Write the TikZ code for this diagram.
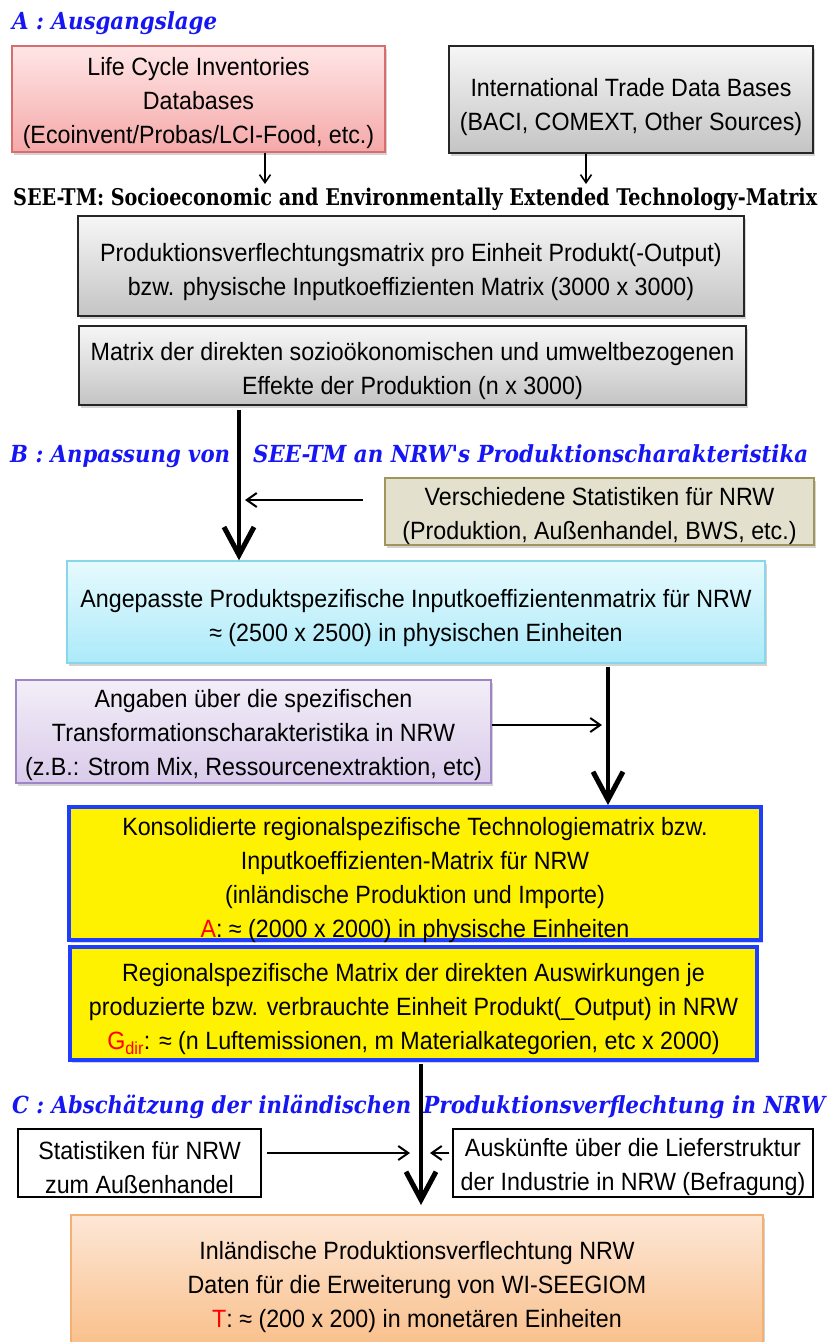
\documentclass[tikz,border=0pt]{standalone}
\usepackage{fontspec}
\usepackage{graphicx}
\setmainfont{Liberation Sans}[FakeStretch=0.93]
\newfontfamily\headserif{DejaVu Serif}
\usetikzlibrary{arrows.meta,shadows,calc}

\definecolor{headblue}{RGB}{22,22,245}
\definecolor{pinktop}{RGB}{255,230,230}
\definecolor{pinkbot}{RGB}{245,168,168}
\definecolor{pinkline}{RGB}{214,110,110}
\definecolor{graytop}{RGB}{246,246,246}
\definecolor{graybot}{RGB}{196,196,196}
\definecolor{olivefill}{RGB}{227,224,205}
\definecolor{oliveline}{RGB}{160,150,92}
\definecolor{cyantop}{RGB}{230,250,254}
\definecolor{cyanbot}{RGB}{172,234,249}
\definecolor{cyanline}{RGB}{136,214,234}
\definecolor{lilactop}{RGB}{243,238,248}
\definecolor{lilacbot}{RGB}{217,203,234}
\definecolor{lilacline}{RGB}{158,133,197}
\definecolor{frameblue}{RGB}{30,62,255}
\definecolor{orangetop}{RGB}{253,231,214}
\definecolor{orangebot}{RGB}{249,190,136}
\definecolor{orangeline}{RGB}{244,176,112}

% stretch a heading horizontally to a given width
\newcommand\fitto[2]{\resizebox{#1}{\height}{#2}}
% text of a box: node <box>T, set a little below the box centre
\newcommand\boxtext[3]{\node[boxtxt] (#1T) at ($(#1.center)+(0,#2)$) {#3};}

\begin{document}
\begin{tikzpicture}[x=1pt,y=-1pt,
  boxtxt/.style={align=center, inner sep=0pt, font=\fontsize{25}{34}\selectfont},
  box/.style={inner sep=0pt,
    drop shadow={shadow xshift=2pt,shadow yshift=-2.5pt,opacity=0.35}},
  pinkbox/.style={box, shading=axis, top color=pinktop, bottom color=pinkbot, draw=pinkline, line width=1.2pt},
  graybox/.style={box, shading=axis, top color=graytop, bottom color=graybot, draw=black!85, line width=1.5pt},
  olivebox/.style={box, fill=olivefill, draw=oliveline, line width=1.6pt},
  cyanbox/.style={box, shading=axis, top color=cyantop, bottom color=cyanbot, draw=cyanline, line width=1.4pt},
  lilacbox/.style={box, shading=axis, top color=lilactop, bottom color=lilacbot, draw=lilacline, line width=1.4pt},
  yellowbox/.style={box, fill=yellow, draw=frameblue, line width=4pt},
  whitebox/.style={inner sep=0pt, fill=white, draw=black, line width=1.5pt},
  orangebox/.style={box, shading=axis, top color=orangetop, bottom color=orangebot, draw=orangeline, line width=1.4pt},
  heading/.style={anchor=base west, inner sep=0pt, text=headblue,
    font=\headserif\bfseries\itshape\fontsize{23.5}{28}\selectfont},
  subheading/.style={anchor=base west, inner sep=0pt, text=black,
    font=\headserif\bfseries\fontsize{23}{28}\selectfont},
  bigarrow/.style={line width=4pt, -{Straight Barb[length=28pt,width=30pt,line width=5pt]}},
  smallarrow/.style={line width=2pt, -{Straight Barb[length=10pt,width=14pt,line width=2pt]}},
  tinyarrow/.style={line width=1.6pt, -{Straight Barb[length=8pt,width=11pt,line width=1.6pt]}}
]
\useasboundingbox (0,0) rectangle (828,1342);

% ---------- A : starting point ----------
\node[heading] (hA) at (12,29) {\fitto{205pt}{A : Ausgangslage}};

\node[pinkbox, minimum width=373pt, minimum height=106pt] (lci) at (198.5,99) {};
\boxtext{lci}{4.5}{Life Cycle Inventories\\Databases\\(Ecoinvent/Probas/LCI-Food, etc.)}
\node[graybox, minimum width=364pt, minimum height=107pt] (itd) at (631,99.5) {};
\boxtext{itd}{7.5}{International Trade Data Bases\\(BACI, COMEXT, Other Sources)}

\node[subheading] (see) at (13,205)
  {\fitto{804pt}{SEE-TM: Socioeconomic and Environmentally Extended Technology-Matrix}};

\coordinate (seeL) at (265,184);
\coordinate (seeR) at (586,184);
\draw[tinyarrow] (lci.south -| seeL) -- (seeL);
\draw[tinyarrow] (itd.south -| seeR) -- (seeR);

\node[graybox, minimum width=666pt, minimum height=100pt] (pvm) at (411,266) {};
\boxtext{pvm}{6}{Produktionsverflechtungsmatrix pro Einheit Produkt(-Output)\\bzw. physische Inputkoeffizienten Matrix (3000 x 3000)}
\node[graybox, minimum width=667pt, minimum height=79pt] (dir) at (412.5,365.5) {};
\boxtext{dir}{6}{Matrix der direkten sozioökonomischen und umweltbezogenen\\Effekte der Produktion (n x 3000)}

% ---------- B : adaptation ----------
\node[heading] (hB1) at (10,462) {\fitto{220pt}{B : Anpassung von}};
\node[heading] (hB2) at (253,462) {\fitto{555pt}{SEE-TM an NRW's Produktionscharakteristika}};

\node[olivebox, minimum width=429pt, minimum height=67pt] (vs) at (599.5,511.5) {};
\boxtext{vs}{5}{Verschiedene Statistiken für NRW\\(Produktion, Außenhandel, BWS, etc.)}

\node[cyanbox, minimum width=698pt, minimum height=102pt] (apm) at (416,612) {};
\boxtext{apm}{6}{Angepasste Produktspezifische Inputkoeffizientenmatrix für NRW\\≈ (2500 x 2500) in physischen Einheiten}

\coordinate (a1) at (239,0);
\coordinate (vsin) at (245,500);
\draw[bigarrow] ([yshift=-4pt]dir.south -| a1) -- (apm.north -| a1);
\draw[smallarrow] (vs.west |- 0,500) ++(-21,0) -- (vsin);

\node[lilacbox, minimum width=475pt, minimum height=103pt] (tc) at (253.5,731.5) {};
\boxtext{tc}{4}{Angaben über die spezifischen\\Transformationscharakteristika in NRW\\(z.B.: Strom Mix, Ressourcenextraktion, etc)}

\node[yellowbox, minimum width=692pt, minimum height=133pt] (krt) at (415,873.5) {};
\boxtext{krt}{6.5}{Konsolidierte regionalspezifische Technologiematrix bzw.\\Inputkoeffizienten-Matrix für NRW\\(inländische Produktion und Importe)\\{\color{red}A}: ≈ (2000 x 2000) in physische Einheiten}
\node[yellowbox, minimum width=687pt, minimum height=113pt] (rma) at (413.5,1003.5) {};
\boxtext{rma}{6}{Regionalspezifische Matrix der direkten Auswirkungen je\\produzierte bzw. verbrauchte Einheit Produkt(\_Output) in NRW\\{\color{red}G\textsubscript{dir}}: ≈ (n Luftemissionen, m Materialkategorien, etc x 2000)}

\coordinate (a2) at (608,0);
\coordinate (tcin) at (602,725);
\draw[bigarrow] ([yshift=-3pt]apm.south -| a2) -- (krt.north -| a2);
\draw[smallarrow] (tc.east |- tcin) -- (tcin);

% ---------- C : estimation ----------
\node[heading] (hC1) at (12,1113) {\fitto{399pt}{C : Abschätzung der inländischen}};
\node[heading] (hC2) at (423,1113) {\fitto{402pt}{Produktionsverflechtung in NRW}};

\node[whitebox, minimum width=243pt, minimum height=68pt] (snrw) at (139.5,1163) {};
\boxtext{snrw}{4.5}{Statistiken für NRW\\zum Außenhandel}
\node[whitebox, minimum width=360pt, minimum height=68pt] (ausk) at (633,1163) {};
\boxtext{ausk}{4.5}{Auskünfte über die Lieferstruktur\\der Industrie in NRW (Befragung)}

\node[orangebox, minimum width=692pt, minimum height=136pt] (ipv) at (417,1283) {};
\boxtext{ipv}{4}{Inländische Produktionsverflechtung NRW\\Daten für die Erweiterung von WI-SEEGIOM\\{\color{red}T}: ≈ (200 x 200) in monetären Einheiten}

\coordinate (a3) at (421,0);
\coordinate (a3tip) at (421,1205);
\coordinate (snin) at (410,1153);
\coordinate (auin) at (430,1153);
\draw[bigarrow] ([yshift=-2pt]rma.south -| a3) -- (a3tip);
\draw[smallarrow] ([xshift=5pt]snrw.east |- snin) -- (snin);
\draw[smallarrow] ([xshift=-3pt]ausk.west |- auin) -- (auin);
\end{tikzpicture}
\end{document}
